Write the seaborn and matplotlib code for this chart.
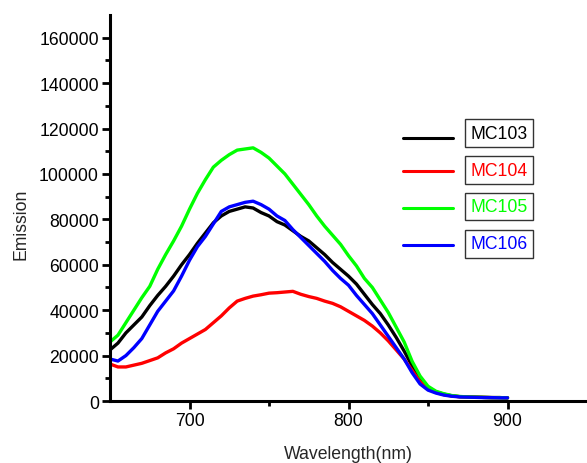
import numpy as np
import pandas as pd
import matplotlib
matplotlib.use("Agg")
import matplotlib.pyplot as plt
import seaborn as sns

wavelength = list(range(650, 905, 5))

mc103 = [22500, 25500, 30000, 33500, 37000, 42000, 46500, 50500, 55000, 60000,
         64500, 69500, 74000, 78500, 81500, 83500, 84500, 85500, 85000, 83000,
         81500, 79000, 77500, 75000, 72500, 70500, 67500, 64500, 61000, 58000,
         55000, 51500, 47000, 42500, 38500, 33500, 28000, 22000, 15500, 9500,
         6000, 4000, 3000, 2300, 1900, 1800, 1700, 1600, 1500, 1500, 1400]
mc104 = [16300, 15000, 15000, 15800, 16600, 17800, 19000, 21200, 23000, 25500,
         27500, 29500, 31500, 34500, 37500, 41000, 44000, 45200, 46200, 46800,
         47500, 47700, 48000, 48300, 47000, 46000, 45200, 44000, 43000, 41500,
         39500, 37500, 35500, 33000, 30000, 26500, 22500, 18500, 13500, 8500,
         5500, 3800, 2800, 2200, 1900, 1800, 1700, 1600, 1500, 1500, 1400]
mc105 = [26000, 29000, 34500, 40000, 45500, 50500, 58000, 64500, 70500, 77000,
         84500, 91500, 97500, 103000, 106000, 108500, 110500, 111000, 111500, 109500,
         107000, 103500, 100000, 95500, 91000, 86500, 81500, 77000, 73000, 69000,
         64000, 59500, 54000, 50000, 44500, 39000, 32500, 26000, 17500, 11000,
         6500, 4300, 3200, 2400, 2000, 1800, 1700, 1600, 1500, 1500, 1400]
mc106 = [18500, 17600, 20000, 23500, 27500, 33500, 39500, 44000, 48500, 55000,
         62000, 68000, 72500, 78000, 83500, 85500, 86500, 87500, 88000, 86500,
         84500, 81500, 79500, 75500, 72000, 68500, 65000, 61500, 57500, 54000,
         51000, 46500, 42500, 38500, 33500, 28500, 23500, 18500, 12500, 7500,
         4800, 3500, 2600, 2100, 1800, 1700, 1600, 1500, 1500, 1400, 1400]

series_names = ["MC103", "MC104", "MC105", "MC106"]
series_colors = ["#000000", "#FF0000", "#00FF00", "#0000FF"]
x_ticks = [700, 800, 900]
y_ticks = [0, 20000, 40000, 60000, 80000, 100000, 120000, 140000, 160000]

df = pd.DataFrame({
    "Wavelength": wavelength * 4,
    "Emission": mc103 + mc104 + mc105 + mc106,
    "Sample": sum([[n] * len(wavelength) for n in series_names], []),
})

sns.set_style("ticks")
plt.rcParams["font.family"] = ["Liberation Sans", "DejaVu Sans"]

fig = plt.figure(figsize=(5.87, 4.64), dpi=100)
ax = fig.add_axes([0.1874, 0.1336, 0.8126, 0.8319])

sns.lineplot(data=df, x="Wavelength", y="Emission", hue="Sample",
             palette=dict(zip(series_names, series_colors)), linewidth=2.4,
             legend=False, ax=ax)

ax.set_xlim(650, 950)
ax.set_ylim(0, 170000)
ax.set_xticks(x_ticks)
ax.set_yticks(y_ticks)
ax.set_xticks([750, 850], minor=True)
ax.set_yticks(list(range(10000, 170000, 20000)), minor=True)
ax.set_xticklabels([str(t) for t in x_ticks])
ax.set_yticklabels([str(t) for t in y_ticks])

for s in ["top", "right"]:
    ax.spines[s].set_visible(False)
for s in ["left", "bottom"]:
    ax.spines[s].set_linewidth(2.2)
    ax.spines[s].set_color("black")

ax.tick_params(which="major", direction="out", length=6, width=2, labelsize=12.7,
               pad=2, colors="black")
ax.tick_params(which="minor", direction="out", length=3.5, width=2, colors="black")

ax.set_xlabel("Wavelength(nm)", fontsize=12.7)
ax.set_ylabel("Emission", fontsize=12.7)
ax.xaxis.set_label_coords(0.5, -0.115)
ax.yaxis.set_label_coords(-0.168, 0.46)

# legend: lines + boxed labels
leg_y_line = [0.681, 0.596, 0.500, 0.404]
leg_y_text = [0.694, 0.598, 0.504, 0.407]
for i, (name, col) in enumerate(zip(series_names, series_colors)):
    ax.plot([0.614, 0.719], [leg_y_line[i]] * 2, color=col, lw=2.2,
            transform=ax.transAxes, clip_on=False)
    ax.text(0.816, leg_y_text[i], name, color=col, fontsize=12.7,
            ha="center", va="center", transform=ax.transAxes,
            bbox=dict(boxstyle="square,pad=0.3", fc="white", ec="#333333", lw=1))

fig.savefig("out.png", dpi=100)
